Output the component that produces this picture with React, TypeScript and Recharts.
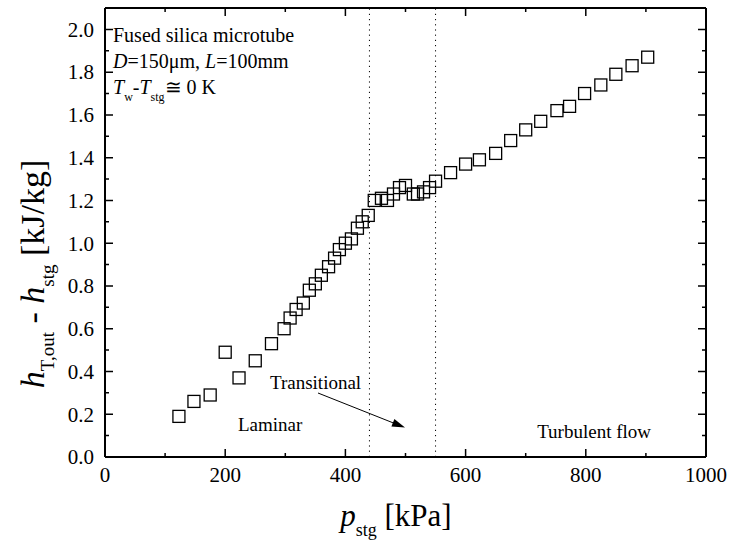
import React from 'react';
import { ScatterChart, Scatter, XAxis, YAxis, ReferenceLine, Customized } from 'recharts';

const pressure = [123, 148, 175, 200, 223, 250, 277, 298, 308, 318, 330, 340, 350, 360, 372, 382, 390, 400, 410, 420, 428, 438, 448, 460, 470, 480, 490, 500, 513, 520, 530, 540, 550, 575, 600, 623, 650, 675, 700, 725, 752, 773, 798, 825, 850, 877, 903];
const enthalpy = [0.19, 0.26, 0.29, 0.49, 0.37, 0.45, 0.53, 0.6, 0.65, 0.69, 0.72, 0.78, 0.81, 0.85, 0.89, 0.93, 0.97, 1.0, 1.02, 1.07, 1.1, 1.13, 1.2, 1.21, 1.2, 1.23, 1.26, 1.27, 1.23, 1.23, 1.24, 1.26, 1.29, 1.33, 1.37, 1.39, 1.42, 1.48, 1.53, 1.57, 1.62, 1.64, 1.7, 1.74, 1.79, 1.83, 1.87];

const xTicks = [0, 100, 200, 300, 400, 500, 600, 700, 800, 900, 1000];
const yTicks = [0, 0.1, 0.2, 0.3, 0.4, 0.5, 0.6, 0.7, 0.8, 0.9, 1.0, 1.1, 1.2, 1.3, 1.4, 1.5, 1.6, 1.7, 1.8, 1.9, 2.0];
const xDomain = [0, 1000];
const yDomain = [0, 2.1];
const regimeBounds = [440, 550];

const points = pressure.map((p, i) => ({ p, h: enthalpy[i] }));

// layout
const W = 732;
const H = 555;
const MARGIN = { top: 8, right: 26, bottom: 0, left: 0 };
const Y_AXIS_W = 105;
const X_AXIS_H = 98;
const plot = {
  left: MARGIN.left + Y_AXIS_W,
  right: W - MARGIN.right,
  top: MARGIN.top,
  bottom: H - MARGIN.bottom - X_AXIS_H,
};

const FONT = '"Liberation Serif", "Times New Roman", serif';
const TICK_FONT = 21;

const isMajorX = (v: number) => Math.round(v) % 200 === 0;
const isMajorY = (v: number) => Math.round(v * 10) % 2 === 0;

// tick label only; with tickSize 6 + tickMargin 2 the anchor sits 8px off the axis
function BottomLabel(props: any) {
  const { x, y, payload } = props;
  if (!isMajorX(payload.value)) return <g />;
  return (
    <text x={x} y={y + 17} textAnchor="middle" fontFamily={FONT} fontSize={TICK_FONT} fill="#000">
      {payload.value}
    </text>
  );
}

function LeftLabel(props: any) {
  const { x, y, payload } = props;
  if (!isMajorY(payload.value)) return <g />;
  return (
    <text x={x - 3} y={y} dy="0.35em" textAnchor="end" fontFamily={FONT} fontSize={TICK_FONT} fill="#000">
      {payload.value.toFixed(1)}
    </text>
  );
}

function Square(props: any) {
  const { cx, cy } = props;
  if (cx == null || cy == null) return null;
  return <rect x={cx - 6} y={cy - 6} width={12} height={12} fill="none" stroke="#000" strokeWidth={1.3} />;
}

// box frame with inward ticks on all four sides
function Frame() {
  const sx = (v: number) => plot.left + ((v - xDomain[0]) / (xDomain[1] - xDomain[0])) * (plot.right - plot.left);
  const sy = (v: number) => plot.bottom - ((v - yDomain[0]) / (yDomain[1] - yDomain[0])) * (plot.bottom - plot.top);
  const d: string[] = [];
  xTicks.forEach((v) => {
    const len = isMajorX(v) ? 8 : 4;
    const x = sx(v);
    d.push(`M${x},${plot.bottom}V${plot.bottom - len}`, `M${x},${plot.top}V${plot.top + len}`);
  });
  yTicks.forEach((v) => {
    const len = isMajorY(v) ? 8 : 4;
    const y = sy(v);
    d.push(`M${plot.left},${y}H${plot.left + len}`, `M${plot.right},${y}H${plot.right - len}`);
  });
  return (
    <g>
      <path d={d.join('')} stroke="#000" strokeWidth={1.5} fill="none" />
      <line x1={plot.left} y1={plot.top} x2={plot.right} y2={plot.top} stroke="#000" strokeWidth={2} />
      <line x1={plot.right} y1={plot.top} x2={plot.right} y2={plot.bottom} stroke="#000" strokeWidth={2} />
      <line x1={plot.left} y1={plot.top} x2={plot.left} y2={plot.bottom} stroke="#000" strokeWidth={2} />
      <line x1={plot.left} y1={plot.bottom} x2={plot.right} y2={plot.bottom} stroke="#000" strokeWidth={2} />
    </g>
  );
}

function Annotations() {
  const sub = 12;
  return (
    <g fontFamily={FONT} fill="#000">
      <Frame />
      <text x={113} y={42} fontSize={20}>Fused silica microtube</text>
      <text x={113} y={68} fontSize={20}>
        <tspan fontStyle="italic">D</tspan>=150μm, <tspan fontStyle="italic">L</tspan>=100mm
      </text>
      <text x={113} y={94} fontSize={20}>
        <tspan fontStyle="italic">T</tspan>
        <tspan fontSize={sub} dy={7}>w</tspan>
        <tspan dy={-7}>-</tspan>
        <tspan fontStyle="italic">T</tspan>
        <tspan fontSize={sub} dy={7}>stg</tspan>
        <tspan dy={-7}>≅ 0 K</tspan>
      </text>
      <text x={270} y={389} fontSize={19}>Transitional</text>
      <text x={238} y={431} fontSize={19}>Laminar</text>
      <text x={651} y={438} fontSize={19} textAnchor="end">Turbulent flow</text>
      <line x1={318} y1={393} x2={396} y2={424} stroke="#000" strokeWidth={1} />
      <polygon points="405,427.5 391.4,426.5 394.4,419" fill="#000" />
      <text x={0} y={0} transform="translate(44,274) rotate(-90)" textAnchor="middle" fontSize={34}>
        <tspan fontStyle="italic">h</tspan>
        <tspan fontSize={19} dy={10}>T,out</tspan>
        <tspan dy={-10}> - </tspan>
        <tspan fontStyle="italic">h</tspan>
        <tspan fontSize={19} dy={10}>stg</tspan>
        <tspan dy={-10}> [kJ/kg]</tspan>
      </text>
      <text x={396} y={526} textAnchor="middle" fontSize={31}>
        <tspan fontStyle="italic">p</tspan>
        <tspan fontSize={18} dy={10}>stg</tspan>
        <tspan dy={-10}> [kPa]</tspan>
      </text>
    </g>
  );
}

export default function App() {
  return (
    <div style={{ position: 'absolute', left: 0, top: 0, width: W, height: H, background: '#fff' }}>
      <ScatterChart width={W} height={H} margin={MARGIN}>
        <XAxis
          dataKey="p"
          type="number"
          domain={xDomain}
          ticks={xTicks}
          interval={0}
          height={X_AXIS_H}
          tickLine={false}
          tick={<BottomLabel />}
          axisLine={{ stroke: '#000', strokeWidth: 2 }}
        />
        <YAxis
          dataKey="h"
          type="number"
          domain={yDomain}
          ticks={yTicks}
          interval={0}
          width={Y_AXIS_W}
          tickLine={false}
          tick={<LeftLabel />}
          axisLine={{ stroke: '#000', strokeWidth: 2 }}
        />
        {regimeBounds.map((b) => (
          <ReferenceLine key={`rb${b}`} x={b} stroke="#000" strokeWidth={1} strokeDasharray="1.2 4" />
        ))}
        <Scatter data={points} dataKey="h" shape={<Square />} isAnimationActive={false} />
        <Customized component={Annotations} />
      </ScatterChart>
    </div>
  );
}
